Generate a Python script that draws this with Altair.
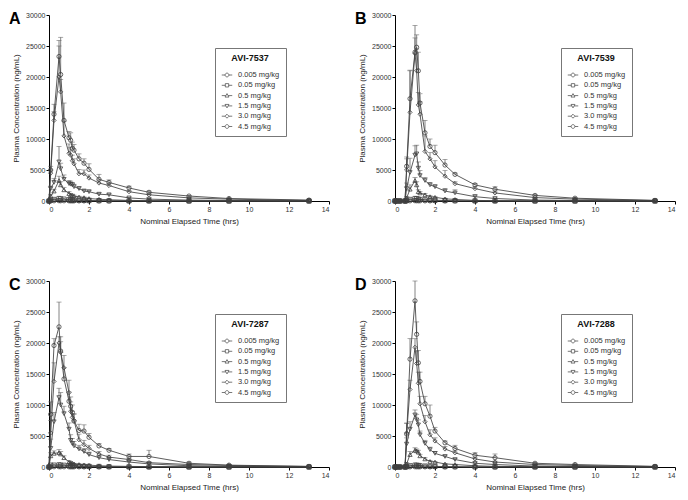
import altair as alt
import pandas as pd

TIMES = [0, 0.083, 0.25, 0.5, 0.583, 0.75, 1.0, 1.083, 1.167, 1.25, 1.5, 1.75, 2, 2.5, 3, 4, 5, 7, 9, 13]
DOSES = ["0.005 mg/kg", "0.05 mg/kg", "0.5 mg/kg", "1.5 mg/kg", "3.0 mg/kg", "4.5 mg/kg"]
LETTERS = ["A", "B", "C", "D"]
COMPOUNDS = ["AVI-7537", "AVI-7539", "AVI-7287", "AVI-7288"]
Y_TICKS = [0, 5000, 10000, 15000, 20000, 25000, 30000]
X_TICKS = [0, 2, 4, 6, 8, 10, 12, 14]

# ---- Panel A: AVI-7537 (means, upper SD) ----
A_MEAN = {
    "4.5 mg/kg": [0, 5000, 14000, 23300, 20400, 13000, 10200, 9800, 8500, 8200, 6800, 6100, 5100, 3500, 3000, 2100, 1400, 800, 400, 150],
    "3.0 mg/kg": [0, 4500, 13000, 20000, 17600, 10500, 7700, 7400, 6500, 6000, 4400, 4400, 3700, 2900, 2500, 1500, 1000, 500, 300, 80],
    "1.5 mg/kg": [0, 2000, 3000, 6300, 5200, 3500, 2800, 2700, 2600, 2300, 2000, 1600, 1500, 1100, 1000, 500, 300, 150, 80, 20],
    "0.5 mg/kg": [0, 800, 1600, 3300, 2600, 1800, 1200, 1000, 900, 800, 650, 550, 400, 280, 200, 100, 50, 20, 10, 5],
    "0.05 mg/kg": [0, 150, 250, 400, 350, 300, 200, 180, 160, 150, 120, 100, 80, 60, 40, 20, 10, 5, 2, 1],
    "0.005 mg/kg": [0, 20, 30, 40, 35, 30, 25, 20, 18, 15, 12, 10, 8, 6, 4, 2, 1, 0, 0, 0],
}
A_SD = {
    "4.5 mg/kg": [0, 600, 1600, 2600, 6000, 2800, 1000, 1200, 1000, 900, 800, 700, 900, 800, 400, 300, 200, 100, 80, 40],
    "3.0 mg/kg": [0, 500, 1400, 5000, 2000, 2400, 1500, 1200, 900, 800, 700, 600, 500, 500, 300, 200, 150, 80, 50, 20],
    "1.5 mg/kg": [0, 400, 600, 2500, 900, 700, 500, 500, 400, 400, 300, 300, 250, 200, 150, 100, 60, 30, 20, 5],
    "0.5 mg/kg": [0, 200, 300, 700, 500, 400, 300, 200, 200, 150, 120, 100, 80, 60, 40, 20, 10, 5, 3, 1],
}

# ---- Panel B: AVI-7539 ----
B_MEAN = {
    "4.5 mg/kg": [0, 0, 0, 0, 5600, 16500, 24000, 24800, 21000, 15800, 11000, 8800, 7800, 5800, 4300, 2600, 1900, 900, 450, 100],
    "3.0 mg/kg": [0, 0, 0, 0, 5000, 14300, 23800, 21000, 15500, 14000, 8000, 6800, 5500, 4000, 2800, 2000, 1300, 550, 300, 80],
    "1.5 mg/kg": [0, 0, 0, 0, 2000, 4600, 7400, 7600, 5300, 4100, 3300, 2600, 2300, 1600, 1300, 700, 400, 150, 80, 20],
    "0.5 mg/kg": [0, 0, 0, 0, 500, 1900, 3300, 2600, 1500, 1300, 1000, 700, 600, 350, 250, 100, 50, 20, 10, 5],
    "0.05 mg/kg": [0, 0, 0, 0, 80, 250, 400, 380, 300, 250, 200, 150, 120, 80, 50, 25, 12, 5, 2, 1],
    "0.005 mg/kg": [0, 0, 0, 0, 10, 25, 40, 38, 30, 25, 20, 15, 12, 8, 5, 2, 1, 0, 0, 0],
}
B_SD = {
    "4.5 mg/kg": [0, 0, 0, 0, 1500, 4500, 4300, 2000, 3000, 1500, 2000, 1200, 1200, 900, 200, 200, 400, 150, 100, 30],
    "3.0 mg/kg": [0, 0, 0, 0, 1800, 6800, 2500, 3500, 2000, 2000, 2500, 1000, 1000, 900, 300, 300, 300, 80, 50, 20],
    "1.5 mg/kg": [0, 0, 0, 0, 900, 2300, 1500, 1400, 1000, 800, 500, 400, 300, 400, 500, 300, 100, 40, 20, 5],
    "0.5 mg/kg": [0, 0, 0, 0, 200, 700, 500, 500, 300, 200, 200, 150, 100, 80, 50, 20, 10, 5, 3, 1],
}

# ---- Panel C: AVI-7287 ----
C_MEAN = {
    "4.5 mg/kg": [0, 8500, 19600, 22600, 18700, 14200, 10600, 9800, 8800, 7400, 5900, 5800, 4800, 3400, 2700, 1700, 1700, 600, 300, 100],
    "3.0 mg/kg": [0, 5500, 13800, 20000, 18500, 16000, 12000, 9000, 8000, 7500, 4400, 3600, 3000, 2100, 1600, 1200, 700, 400, 250, 80],
    "1.5 mg/kg": [0, 3000, 7300, 11200, 10000, 8600, 6100, 4300, 3800, 3400, 2900, 2500, 2000, 1500, 1200, 800, 500, 200, 100, 30],
    "0.5 mg/kg": [0, 1800, 2200, 2300, 2100, 1500, 800, 700, 600, 500, 400, 350, 300, 200, 150, 100, 60, 30, 15, 5],
    "0.05 mg/kg": [0, 300, 300, 350, 300, 280, 250, 220, 200, 180, 150, 120, 100, 80, 50, 30, 15, 5, 2, 1],
    "0.005 mg/kg": [0, 30, 30, 35, 30, 28, 25, 22, 20, 18, 15, 12, 10, 8, 5, 3, 1, 0, 0, 0],
}
C_SD = {
    "4.5 mg/kg": [0, 2000, 1100, 4000, 1500, 1800, 1500, 1500, 1200, 1200, 1000, 1000, 600, 400, 300, 400, 1000, 200, 100, 30],
    "3.0 mg/kg": [0, 2000, 3000, 1000, 2500, 2000, 2000, 1500, 1000, 1000, 900, 700, 500, 400, 300, 200, 150, 80, 50, 20],
    "1.5 mg/kg": [0, 1500, 1500, 1500, 2000, 1200, 1000, 900, 800, 700, 600, 500, 400, 300, 300, 200, 100, 50, 30, 10],
    "0.5 mg/kg": [0, 500, 400, 500, 400, 300, 200, 150, 120, 100, 80, 70, 60, 40, 30, 20, 10, 5, 3, 1],
}

# ---- Panel D: AVI-7288 ----
D_MEAN = {
    "4.5 mg/kg": [0, 0, 0, 0, 5300, 17400, 26800, 21400, 16800, 13800, 10200, 8200, 5800, 3900, 3000, 1900, 1500, 600, 400, 100],
    "3.0 mg/kg": [0, 0, 0, 0, 5500, 12500, 19300, 16700, 13500, 10200, 7300, 5200, 4200, 2900, 2300, 1300, 800, 400, 250, 80],
    "1.5 mg/kg": [0, 0, 0, 0, 3700, 6100, 8400, 7600, 6800, 5200, 3800, 2800, 2200, 1700, 1200, 600, 400, 150, 80, 20],
    "0.5 mg/kg": [0, 0, 0, 0, 500, 2000, 2700, 2600, 2400, 1800, 1300, 900, 800, 500, 400, 200, 100, 50, 20, 5],
    "0.05 mg/kg": [0, 0, 0, 0, 60, 200, 300, 280, 250, 200, 150, 120, 100, 70, 50, 25, 12, 5, 2, 1],
    "0.005 mg/kg": [0, 0, 0, 0, 8, 20, 30, 28, 25, 20, 15, 12, 10, 7, 5, 2, 1, 0, 0, 0],
}
D_SD = {
    "4.5 mg/kg": [0, 0, 0, 0, 1800, 3300, 3200, 2000, 2000, 1500, 1200, 1800, 600, 300, 500, 400, 600, 150, 100, 30],
    "3.0 mg/kg": [0, 0, 0, 0, 1500, 1500, 1400, 2000, 1800, 1200, 1000, 800, 500, 400, 300, 200, 150, 80, 50, 20],
    "1.5 mg/kg": [0, 0, 0, 0, 1000, 1200, 800, 900, 800, 600, 500, 400, 300, 200, 200, 100, 60, 30, 20, 5],
    "0.5 mg/kg": [0, 0, 0, 0, 200, 500, 400, 300, 300, 250, 200, 150, 100, 80, 60, 30, 15, 8, 4, 1],
}

MEANS = [A_MEAN, B_MEAN, C_MEAN, D_MEAN]
SDS = [A_SD, B_SD, C_SD, D_SD]

SHAPES = ["circle", "square", "triangle-up", "triangle-down", "diamond", "circle"]
LEG_SHAPES = [
    "M-1,0H-0.36M0.36,0H1M-0.36,0A0.36,0.36 0 1,0 0.36,0A0.36,0.36 0 1,0 -0.36,0",
    "M-1,0H-0.32M0.32,0H1M-0.32,-0.32H0.32V0.32H-0.32Z",
    "M-1,0H-0.22M0.22,0H1M0,-0.38L0.38,0.28H-0.38Z",
    "M-1,0H-0.22M0.22,0H1M0,0.38L0.38,-0.28H-0.38Z",
    "M-1,0H-0.38M0.38,0H1M0,-0.38L0.38,0L0,0.38L-0.38,0Z",
    "M-1,0H-0.36M0.36,0H1M-0.36,0A0.36,0.36 0 1,0 0.36,0A0.36,0.36 0 1,0 -0.36,0",
]

FONT = "Liberation Sans"
INK = "#404040"
W, H = 280, 186


def make_df(means, sds):
    rows = []
    for dose in DOSES:
        m = means[dose]
        s = sds.get(dose, [0] * len(TIMES))
        for t, v, e in zip(TIMES, m, s):
            rows.append({"t": t, "mean": v, "sd": e, "dose": dose})
    return pd.DataFrame(rows)


def x_enc():
    return alt.X("t:Q", scale=alt.Scale(domain=[0, 14], nice=False),
                 axis=alt.Axis(values=X_TICKS, labelOverlap=False, title="Nominal Elapsed Time (hrs)"))


def y_enc(field):
    return alt.Y(field, scale=alt.Scale(domain=[0, 30000], nice=False),
                 axis=alt.Axis(values=Y_TICKS, format="d", labelOverlap=False,
                               title="Plasma Concentration  (ng/mL)"))


def panel(letter, compound, df):
    base = alt.Chart(df)
    err_base = base.transform_filter("datum.sd > 0").transform_calculate(top="datum.mean + datum.sd")
    err = err_base.mark_rule(color="#666666", strokeWidth=0.8).encode(
        x=x_enc(), y=y_enc("mean:Q"), y2="top:Q")
    caps = err_base.mark_tick(orient="horizontal", size=5, thickness=0.8, color="#666666").encode(
        x=x_enc(), y=y_enc("top:Q"))
    lines = base.mark_line(color=INK, strokeWidth=0.85).encode(x=x_enc(), y=y_enc("mean:Q"), detail="dose:N")
    pts = base.mark_point(filled=False, size=18, strokeWidth=0.8, color=INK, opacity=1).encode(
        x=x_enc(), y=y_enc("mean:Q"),
        shape=alt.Shape("dose:N", scale=alt.Scale(domain=DOSES, range=SHAPES), legend=None))
    leg = base.transform_filter("datum.t < 0").mark_point(filled=False, strokeWidth=0.8, color=INK).encode(
        x=x_enc(), y=y_enc("mean:Q"),
        shape=alt.Shape("dose:N", scale=alt.Scale(domain=DOSES, range=LEG_SHAPES),
                        legend=alt.Legend(title=compound, orient="none", legendX=166, legendY=33,
                                          strokeColor="#777777", fillColor="white", padding=6,
                                          titleFontSize=9, titleFontWeight="bold", titleAnchor="middle",
                                          titleColor="#111111", titlePadding=6, titleFont=FONT,
                                          labelFontSize=7.5, labelColor="#333333", labelFont=FONT,
                                          labelOffset=5, symbolSize=110, symbolStrokeWidth=0.8,
                                          symbolStrokeColor="#555555", symbolOpacity=1, rowPadding=0.3)))
    return alt.layer(err, caps, lines, pts, leg).resolve_scale(shape="independent").properties(
        width=W, height=H,
        title=alt.TitleParams(letter, anchor="start", frame="group", fontSize=16, fontWeight="bold",
                              font=FONT, color="black", dx=-40, dy=16, offset=0))


panels = [panel(L, C, make_df(m, s)) for L, C, m, s in zip(LETTERS, COMPOUNDS, MEANS, SDS)]
row1 = alt.hconcat(panels[0], panels[1], spacing=24).resolve_scale(shape="independent").resolve_legend(shape="independent")
row2 = alt.hconcat(panels[2], panels[3], spacing=24).resolve_scale(shape="independent").resolve_legend(shape="independent")
chart = alt.vconcat(row1, row2, spacing=50).resolve_scale(shape="independent").resolve_legend(shape="independent").properties(
    padding={"left": 0, "top": 2, "right": 0, "bottom": 0}
).configure(font=FONT).configure_view(stroke="transparent").configure_axis(
    labelFontSize=7, titleFontSize=8, labelColor="#333333", titleColor="#222222",
    titleFontWeight="normal", labelFont=FONT, titleFont=FONT, labelOverlap=False,
    domainColor="black", tickColor="black", tickSize=3, grid=False, labelPadding=1,
    titlePadding=5, domainWidth=1, tickWidth=1
)

chart.save("out.html", embed_options={"renderer": "svg", "actions": False})
